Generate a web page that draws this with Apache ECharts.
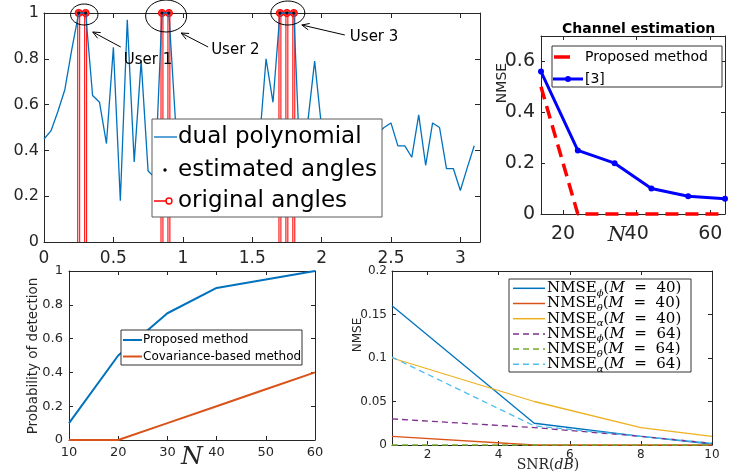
<!DOCTYPE html>
<html><head><meta charset="utf-8">
<script src="https://cdn.jsdelivr.net/npm/echarts@6/dist/echarts.min.js"></script>
<style>html,body{margin:0;padding:0;background:#fff}#c{width:752px;height:475px}</style>
</head><body><div id="c"></div>
<script>
// ---------- DATA ----------
// Top-left: dual polynomial vs angle
const thetaGrid = [0,0.05,0.1,0.15,0.2,0.25,0.3,0.35,0.4,0.45,0.5,0.55,0.6,0.65,0.7,0.75,0.8,0.85,0.9,0.95,
  1.0,1.05,1.1,1.15,1.2,1.25,1.3,1.35,1.4,1.45,1.5,1.55,1.6,1.65,1.7,1.75,1.8,1.85,1.9,1.95,
  2.0,2.05,2.1,2.15,2.2,2.25,2.3,2.35,2.4,2.45,2.5,2.55,2.6,2.65,2.7,2.75,2.8,2.85,2.9,2.95,3.0,3.05,3.1];
const dualPoly = [0.45,0.485,0.57,0.665,0.84,1.0,1.0,0.64,0.61,0.43,0.85,0.18,0.97,0.35,0.79,0.31,0.28,1.0,1.0,0.5,
  0.42,0.36,0.48,0.33,0.45,0.38,0.50,0.30,0.44,0.37,0.47,0.42,0.80,0.61,1.0,1.0,1.0,0.26,0.52,0.79,
  0.50,0.38,0.46,0.34,0.49,0.40,0.45,0.36,0.47,0.50,0.52,0.42,0.42,0.37,0.555,0.335,0.52,0.50,0.32,0.32,0.225,0.325,0.42];
const originalAngles = [0.25,0.3,0.85,0.9,1.7,1.75,1.8];
const estimatedAngles = [0.25,0.3,0.85,0.9,1.7,1.75,1.8];
const userNames = ['User 1','User 2','User 3'];
const userCenters = [0.29,0.88,1.757];
const tlXTicks = [0,0.5,1,1.5,2,2.5,3];
const tlYTicks = [0,0.2,0.4,0.6,0.8,1];

// Top-right: channel estimation
const nTR = [14,24,34,44,54,64];
const proposedTR = [0.5,0,0,0,0,0];
const ref3TR = [0.56,0.25,0.20,0.10,0.07,0.06];
const trXTicks = [20,40,60];
const trYTicks = [0,0.2,0.4,0.6];

// Bottom-left: probability of detection
const nBL = [10,20,30,40,50,60];
const proposedBL = [0.1,0.5,0.75,0.9,0.95,1.0];
const covarianceBL = [0,0,0.1,0.2,0.3,0.4];
const blXTicks = [10,20,30,40,50,60];
const blYTicks = [0,0.2,0.4,0.6,0.8,1];

// Bottom-right: NMSE vs SNR
const snr = [1,5,8,10];
const phi40 = [0.16,0.025,0.01,0.001];
const theta40 = [0.01,0,0,0];
const alpha40 = [0.1,0.05,0.02,0.01];
const phi64 = [0.03,0.02,0.01,0.002];
const theta64 = [0,0,0,0];
const alpha64 = [0.101,0.022,0.01,0.002];
const brXTicks = [2,4,6,8,10];
const brYTicks = [0,0.05,0.1,0.15,0.2];

// ---------- STYLE ----------
const AX = '#262626';
const SANS = '"DejaVu Sans", sans-serif';
const SERIF = '"DejaVu Serif", serif';
const C = {blue:'#0072BD', orange:'#D95319', yellow:'#EDB120', purple:'#7E2F8E', green:'#77AC30', cyan:'#4DBEEE'};

const grids = [
  {left:44, top:13, width:436, height:229},
  {left:541, top:36, width:184, height:178},
  {left:69, top:271, width:246, height:169},
  {left:392, top:271, width:320, height:174}
].map(g => Object.assign({outerBoundsMode:'none', containLabel:false, show:false}, g));

function axisPair(dim, gi, min, max, ticks, fs, margin, tickLen) {
  const pos = dim === 'x' ? ['bottom','top'] : ['left','right'];
  return pos.map((p, k) => ({
    gridIndex: gi, type: 'value', position: p, min, max,
    axisLine: {show: true, onZero: false, lineStyle: {color: AX, width: 1}},
    axisTick: {show: true, inside: true, length: tickLen, customValues: ticks, lineStyle: {color: AX, width: 1}},
    axisLabel: k === 0 ? {show: true, customValues: ticks, color: AX, fontSize: fs, fontFamily: SANS, margin,
      formatter: v => String(+v.toFixed(4))} : {show: false},
    splitLine: {show: false}
  }));
}

const xAxis = [].concat(
  axisPair('x', 0, 0, Math.PI, tlXTicks, 17, 8, 5),
  axisPair('x', 1, 14, 64, trXTicks, 19, 11, 4),
  axisPair('x', 2, 10, 60, blXTicks, 13, 6, 4),
  axisPair('x', 3, 1, 10, brXTicks, 12, 4, 4)
);
const yAxis = [].concat(
  axisPair('y', 0, 0, 1, tlYTicks, 16, 5, 5),
  axisPair('y', 1, 0, 0.7, trYTicks, 19, 6, 4),
  axisPair('y', 2, 0, 1, blYTicks, 13, 6, 4),
  axisPair('y', 3, 0, 0.2, brYTicks, 12, 5, 4)
);

const zip = (xs, ys) => xs.map((x, i) => [x, ys[i]]);
function ln(gi, name, xs, ys, color, width, dash, extra) {
  return Object.assign({
    type: 'line', name, xAxisIndex: gi * 2, yAxisIndex: gi * 2, data: zip(xs, ys),
    symbol: 'none', clip: false, animation: false,
    lineStyle: {color, width, type: dash || 'solid'}, itemStyle: {color}
  }, extra || {});
}

const series = [
  ln(0, 'dual polynomial', thetaGrid, dualPoly, C.blue, 1.3),
  {
    type: 'custom', name: 'original angles', xAxisIndex: 0, yAxisIndex: 0, z: 3, animation: false,
    data: originalAngles.map(a => [a, 1]),
    renderItem: (params, api) => {
      const x = api.value(0), y = api.value(1);
      const t = api.coord([x, y]), b = api.coord([x, 0]);
      return {type: 'group', children: [
        {type: 'line', shape: {x1: t[0], y1: t[1], x2: b[0], y2: b[1]}, style: {stroke: '#ff0000', lineWidth: 3}},
        {type: 'line', shape: {x1: t[0], y1: t[1], x2: b[0], y2: b[1]}, style: {stroke: '#ffe0e0', lineWidth: 1}},
        {type: 'circle', shape: {cx: t[0], cy: t[1], r: 3.6}, style: {fill: '#ff3030', stroke: '#ff0000', lineWidth: 1}}
      ]};
    }
  },
  {type: 'scatter', name: 'estimated angles', xAxisIndex: 0, yAxisIndex: 0, z: 4, animation: false,
   data: estimatedAngles.map(a => [a, 1]), symbolSize: 3.2, itemStyle: {color: '#000'}},
  ln(1, 'Proposed method (CE)', nTR, proposedTR, '#ff0000', 3.5, [13, 7]),
  ln(1, '[3]', nTR, ref3TR, '#0000ff', 3, null, {symbol: 'circle', symbolSize: 6, showSymbol: true}),
  ln(2, 'Proposed method', nBL, proposedBL, C.blue, 2),
  ln(2, 'Covariance-based method', nBL, covarianceBL, C.orange, 2),
  ln(3, 'NMSE_phi(M=40)', snr, phi40, C.blue, 1.3),
  ln(3, 'NMSE_theta(M=40)', snr, theta40, C.orange, 1.3),
  ln(3, 'NMSE_alpha(M=40)', snr, alpha40, C.yellow, 1.3),
  ln(3, 'NMSE_phi(M=64)', snr, phi64, C.purple, 1.3, [6, 4]),
  ln(3, 'NMSE_theta(M=64)', snr, theta64, C.green, 1.3, [6, 4]),
  ln(3, 'NMSE_alpha(M=64)', snr, alpha64, C.cyan, 1.3, [6, 4])
];

const chart = echarts.init(document.getElementById('c'), null, {renderer: 'canvas', width: 752, height: 475});
chart.setOption({
  animation: false,
  backgroundColor: '#fff',
  title: {text: 'Channel estimation', left: 557, top: 17,
    textStyle: {fontFamily: SANS, fontSize: 14, fontWeight: 'bold', color: '#000'}},
  grid: grids, xAxis, yAxis, series
});

// ---------- annotations / legends ----------
const P = (x, y) => chart.convertToPixel({xAxisIndex: 0, yAxisIndex: 0}, [x, y]);
const txt = (text, x, y, font, extra) => Object.assign({
  type: 'text', z: 110, x, y,
  style: {text, x: 0, y: 0, font, fill: '#000', align: 'left', verticalAlign: 'middle'}
}, extra || {});
const line = (x1, y1, x2, y2, stroke, lw, dash) => ({
  type: 'line', z: 105, shape: {x1, y1, x2, y2}, style: {stroke, lineWidth: lw, lineDash: dash || null}
});
const g = [];

// User annotations (pixel offsets relative to each group's peak)
const userGeom = [
  {dy: 1.5, rx: 13.7, ry: 10.5, head: [8.5, 17.5], tail: [36.5, 32.5], text: [39.5, 45.5]},
  {dy: 3, rx: 20.5, ry: 16, head: [15, 17], tail: [42, 31], text: [45, 34]},
  {dy: 0, rx: 17, ry: 12, head: [14, 12], tail: [57, 22], text: [62, 24]}
];
userCenters.forEach((ux, i) => {
  const p = P(ux, 1), u = userGeom[i];
  const cx = p[0], cy = p[1] + u.dy;
  g.push({type: 'ellipse', z: 106, shape: {cx, cy, rx: u.rx, ry: u.ry}, style: {fill: null, stroke: '#000', lineWidth: 1}});
  const hx = cx + u.head[0], hy = cy + u.head[1], tx = cx + u.tail[0], ty = cy + u.tail[1];
  g.push(line(tx, ty, hx, hy, '#000', 1));
  const ang = Math.atan2(hy - ty, hx - tx), L = 8, a = 0.42;
  g.push({type: 'polyline', z: 106, shape: {points: [
    [hx - L * Math.cos(ang - a), hy - L * Math.sin(ang - a)], [hx, hy],
    [hx - L * Math.cos(ang + a), hy - L * Math.sin(ang + a)]]}, style: {fill: null, stroke: '#000', lineWidth: 1}});
  g.push(txt(userNames[i], cx + u.text[0], cy + u.text[1], '15px ' + SANS));
});

// Top-left legend
g.push({type: 'rect', z: 100, shape: {x: 152, y: 119, width: 230, height: 98}, style: {fill: '#fff', stroke: '#5a5a5a', lineWidth: 1}});
g.push(line(154, 137, 177, 137, C.blue, 1.3));
g.push(txt('dual polynomial', 178, 137, '23px ' + SANS));
g.push({type: 'circle', z: 106, shape: {cx: 165, cy: 170, r: 1.7}, style: {fill: '#000'}});
g.push(txt('estimated angles', 178, 170, '23px ' + SANS));
g.push(line(154, 201, 167, 201, '#ff0000', 1.5));
g.push({type: 'circle', z: 106, shape: {cx: 169, cy: 201, r: 3}, style: {fill: '#fff', stroke: '#ff0000', lineWidth: 1.4}});
g.push(txt('original angles', 178, 201, '23px ' + SANS));

// Top-right legend + axis titles
g.push({type: 'rect', z: 100, shape: {x: 552, y: 46, width: 170, height: 41}, style: {fill: '#fff', stroke: '#333', lineWidth: 1}});
g.push(line(554, 57, 570, 57, '#ff0000', 3.5));
g.push(txt('Proposed method', 585, 57, '14px ' + SANS));
g.push(line(553, 79, 583, 79, '#0000ff', 3));
g.push({type: 'circle', z: 106, shape: {cx: 568, cy: 79, r: 3}, style: {fill: '#0000ff'}});
g.push(txt('[3]', 585, 79, '14px ' + SANS));
g.push(txt('NMSE', 502, 83, '14px ' + SANS, {rotation: Math.PI / 2, style: {text: 'NMSE', x: 0, y: 0, font: '14px ' + SANS, fill: AX, align: 'center', verticalAlign: 'middle'}}));
g.push(txt('N', 617, 236, 'italic 21px ' + SERIF, {style: {text: 'N', x: 0, y: 0, font: 'italic 21px ' + SERIF, fill: AX, align: 'center', verticalAlign: 'middle'}}));

// Bottom-left legend + axis titles
g.push({type: 'rect', z: 100, shape: {x: 121, y: 330, width: 181, height: 35}, style: {fill: '#fff', stroke: '#333', lineWidth: 1}});
g.push(line(123, 340, 142, 340, C.blue, 2));
g.push(txt('Proposed method', 143, 340, '12px ' + SANS));
g.push(line(123, 356.5, 142, 356.5, C.orange, 2));
g.push(txt('Covariance-based method', 143, 356.5, '12px ' + SANS));
g.push(txt('Probability of detection', 33, 356, '13.5px ' + SANS, {rotation: Math.PI / 2, style: {text: 'Probability of detection', x: 0, y: 0, font: '13.5px ' + SANS, fill: AX, align: 'center', verticalAlign: 'middle'}}));
g.push(txt('N', 192, 457, 'italic 25px ' + SERIF, {style: {text: 'N', x: 0, y: 0, font: 'italic 25px ' + SERIF, fill: AX, align: 'center', verticalAlign: 'middle'}}));

// Bottom-right legend + axis titles
g.push({type: 'rect', z: 100, shape: {x: 509, y: 279, width: 182, height: 93}, style: {fill: '#fff', stroke: '#333', lineWidth: 1}});
const brLegend = [
  ['ϕ', '40', C.blue, null], ['θ', '40', C.orange, null], ['α', '40', C.yellow, null],
  ['ϕ', '64', C.purple, [6, 4]], ['θ', '64', C.green, [6, 4]], ['α', '64', C.cyan, [6, 4]]
];
const rich = {
  n: {font: '15px ' + SERIF, fill: '#000', lineHeight: 20, verticalAlign: 'middle'},
  s: {font: 'italic 10px ' + SERIF, fill: '#000', lineHeight: 20, verticalAlign: 'bottom'},
  i: {font: 'italic 15px ' + SERIF, fill: '#000', lineHeight: 20, verticalAlign: 'middle'}
};
brLegend.forEach((r, k) => {
  const y = 288.3 + k * 15.2;
  g.push(line(513, y, 545, y, r[2], 1.5, r[3]));
  g.push({type: 'text', z: 110, x: 547, y: y, style: {
    text: '{n|NMSE}{s|' + r[0] + '}{n|(}{i|M}{n|  =  ' + r[1] + ')}', rich, x: 0, y: 0,
    align: 'left', verticalAlign: 'middle'}});
});
g.push({type: 'text', z: 110, x: 358, y: 335, rotation: Math.PI / 2, style: {text: 'NMSE', x: 0, y: 0, font: '12px ' + SANS, fill: AX, align: 'center', verticalAlign: 'middle'}});
g.push({type: 'text', z: 110, x: 548, y: 465, style: {
  text: '{n|SNR(}{i|dB}{n|)}', x: 0, y: 0, align: 'center', verticalAlign: 'middle',
  rich: {n: {font: '14px ' + SERIF, fill: AX}, i: {font: 'italic 14px ' + SERIF, fill: AX}}}});

chart.setOption({graphic: {elements: g}});
</script>
</body></html>
